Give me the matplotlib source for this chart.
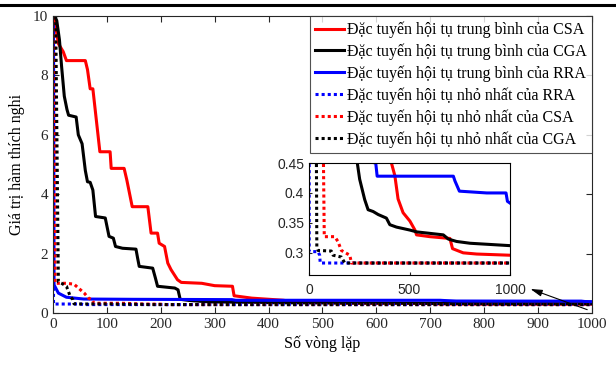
import matplotlib.pyplot as plt
from matplotlib.lines import Line2D

plt.rcParams['font.family'] = ['Liberation Serif', 'DejaVu Serif']

# average convergence curves
csa_avg_x = [1, 2, 10, 19, 25, 60, 64, 69, 74, 87, 106, 108, 132, 137, 147, 176, 182, 194, 197, 207,
             213, 219, 231, 238, 276, 300, 333, 336, 369, 410, 427, 443, 468, 502, 527, 535, 601, 701,
             714, 767, 834, 1000]
csa_avg_y = [10, 10, 9.07, 8.8, 8.5, 8.5, 8.2, 7.55, 7.55, 5.43, 5.43, 4.87, 4.87, 4.48, 3.58, 3.58,
             2.69, 2.69, 2.35, 2.24, 1.68, 1.46, 1.12, 1.03, 1.0, 0.92, 0.9, 0.58, 0.5, 0.45, 0.429,
             0.39, 0.367, 0.353, 0.338, 0.33, 0.327, 0.324, 0.307, 0.3, 0.298, 0.296]

cga_avg_x = [2, 7, 12, 16, 21, 26, 29, 43, 47, 54, 60, 64, 69, 74, 79, 97, 104, 112, 116, 129, 154,
             157, 160, 185, 190, 194, 226, 232, 236, 252, 277, 294, 319, 344, 385, 402, 435, 502, 535,
             668, 693, 734, 801, 1000]
cga_avg_y = [10, 9.85, 9.2, 8.3, 7.3, 6.85, 6.66, 6.6, 6.0, 5.7, 4.8, 4.42, 4.4, 4.14, 3.25, 3.2,
             2.58, 2.52, 2.24, 2.18, 2.15, 1.85, 1.57, 1.51, 1.18, 0.9, 0.84, 0.78, 0.46, 0.423, 0.389,
             0.372, 0.369, 0.364, 0.358, 0.347, 0.343, 0.338, 0.335, 0.33, 0.323, 0.319, 0.316, 0.312]

rra_avg_x = [1, 2, 10, 25, 57, 150, 250, 332, 339, 718, 726, 748, 884, 980, 987, 1000]
rra_avg_y = [9.7, 0.95, 0.67, 0.53, 0.47, 0.46, 0.455, 0.45, 0.428, 0.428, 0.42, 0.403, 0.4, 0.4,
             0.386, 0.383]

# minimum convergence curves
rra_min_x = [0, 1, 45, 53, 56, 1000]
rra_min_y = [9.7, 0.302, 0.302, 0.296, 0.283, 0.283]

csa_min_x = [3, 4, 25, 39, 51, 58, 66, 72, 76, 128, 144, 161, 203, 211, 1000]
csa_min_y = [10, 1.0, 1.0, 0.97, 0.78, 0.67, 0.5, 0.45, 0.327, 0.327, 0.319, 0.304, 0.296, 0.283, 0.283]

cga_min_x = [5, 10, 16, 25, 32, 37, 39, 45, 111, 120, 161, 178, 1000]
cga_min_y = [10, 1.05, 1.0, 0.9, 0.56, 0.45, 0.31, 0.304, 0.303, 0.296, 0.293, 0.283, 0.283]

labels = ['Đặc tuyến hội tụ trung bình của CSA',
          'Đặc tuyến hội tụ trung bình của CGA',
          'Đặc tuyến hội tụ trung bình của RRA',
          'Đặc tuyến hội tụ nhỏ nhất của RRA',
          'Đặc tuyến hội tụ nhỏ nhất của CSA',
          'Đặc tuyến hội tụ nhỏ nhất của CGA']

series = [(csa_avg_x, csa_avg_y, 'red', '-'),
          (cga_avg_x, cga_avg_y, 'black', '-'),
          (rra_avg_x, rra_avg_y, 'blue', '-'),
          (rra_min_x, rra_min_y, 'blue', (0, (1, 1))),
          (csa_min_x, csa_min_y, 'red', (0, (1, 1))),
          (cga_min_x, cga_min_y, 'black', (0, (1, 1)))]

fig = plt.figure(figsize=(6.16, 3.65), dpi=100)
ax = fig.add_axes([0.086, 0.1425, 0.875, 0.8135])

for (x, y, c, ls), lab in zip(series, labels):
    ax.plot(x, y, color=c, linestyle=ls, linewidth=2.2, label=lab)

ax.set_xlim(0, 1000)
ax.set_ylim(0, 10)
ax.set_xticks(range(0, 1001, 100))
ax.set_yticks(range(0, 11, 2))
ax.tick_params(direction='in', top=True, right=True, labelsize=11, colors='#262626', length=4)
for s in ax.spines.values():
    s.set_color('#262626')
    s.set_linewidth(0.8)
ax.set_xlabel('Số vòng lặp', fontsize=11.5, labelpad=3)
ax.set_ylabel('Giá trị hàm thích nghi', fontsize=11.5, labelpad=6)

leg = ax.legend(loc='upper right', fontsize=11.5, frameon=True, fancybox=False, edgecolor='#262626',
                handlelength=1.8, handletextpad=0.15, labelspacing=0.34, borderaxespad=0,
                borderpad=0.35)
leg.get_frame().set_linewidth(0.8)

# zoomed inset
ins = fig.add_axes([0.5016, 0.2466, 0.3264, 0.3068])
for x, y, c, ls in series:
    ins.plot(x, y, color=c, linestyle=ls, linewidth=2.2)
ins.set_xlim(0, 1000)
ins.set_ylim(0.263, 0.45)
ins.set_xticks([0, 500, 1000])
ins.set_yticks([0.3, 0.35, 0.4, 0.45])
ins.set_yticklabels(['0.3', '0.35', '0.4', '0.45'])
ins.tick_params(direction='in', length=2, labelsize=10, colors='#262626')
ins.tick_params(axis='x', pad=6)
for t in ins.get_xticklabels() + ins.get_yticklabels():
    t.set_family(['Liberation Sans', 'DejaVu Sans'])
for s in ins.spines.values():
    s.set_linewidth(0.8)

ax.annotate('', xy=(881, 0.84), xytext=(996, 0.08),
            arrowprops=dict(arrowstyle='-|>,head_length=0.7,head_width=0.2', color='black', lw=0.8))

# rule across the top of the page
fig.add_artist(Line2D([0, 1], [0.986, 0.986], color='black', linewidth=2.2, transform=fig.transFigure))

fig.savefig('out.png', dpi=100)
